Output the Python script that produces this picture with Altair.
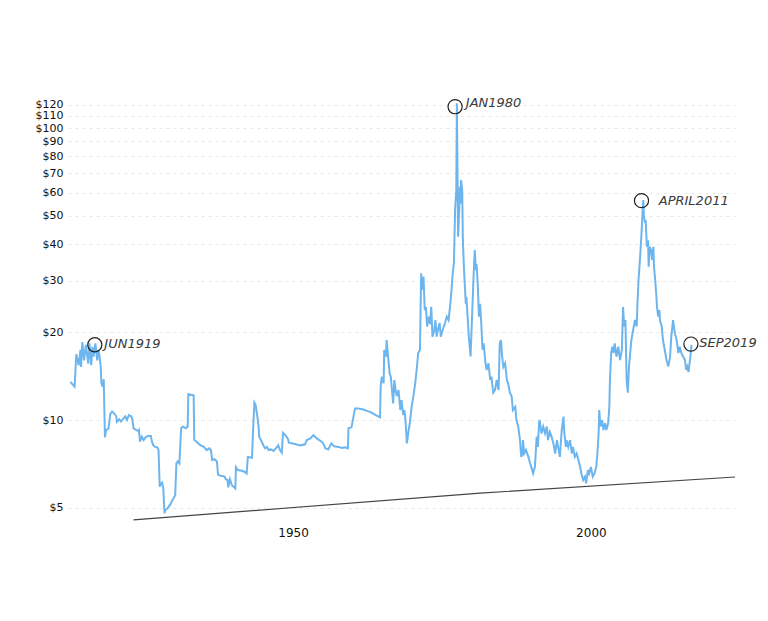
import altair as alt
import pandas as pd

# ---- data ----
years = [1912.6, 1913.3, 1913.6, 1914.0, 1914.3, 1914.4, 1914.6, 1914.9, 1915.2, 1915.6, 1915.8, 1916.1, 1916.3,
         1916.5, 1916.8, 1917.1, 1917.3, 1917.5, 1917.7, 1917.8, 1918.0, 1918.2, 1918.4, 1918.6, 1919.0, 1919.3,
         1919.6, 1920.0, 1920.3, 1920.4, 1920.8, 1921.1, 1921.4, 1921.8, 1922.1, 1922.4, 1922.8, 1923.0, 1923.2,
         1923.7, 1924.0, 1924.1, 1924.3, 1924.6, 1924.9, 1925.2, 1925.6, 1926.1, 1926.3, 1926.5, 1926.8, 1927.2,
         1927.4, 1927.6, 1927.8, 1928.0, 1928.2, 1928.4, 1928.6, 1928.9, 1929.4, 1929.9, 1930.2, 1930.4, 1930.6,
         1930.9, 1931.2, 1931.5, 1932.0, 1932.3, 1932.4, 1933.3, 1933.4, 1933.8, 1934.4, 1935.0, 1935.5, 1935.9,
         1936.2, 1936.4, 1936.8, 1937.2, 1937.4, 1937.9, 1938.5, 1938.7, 1939.0, 1939.1, 1939.4, 1939.7, 1940.0,
         1940.3, 1940.4, 1940.7, 1941.4, 1941.9, 1942.2, 1942.4, 1943.1, 1943.3, 1943.5, 1943.7, 1944.0, 1944.2,
         1944.3, 1944.6, 1945.0, 1945.3, 1945.6, 1945.9, 1946.3, 1946.7, 1947.1, 1947.5, 1947.8, 1948.1, 1948.3,
         1948.7, 1949.1, 1949.3, 1949.7, 1950.3, 1951.2, 1952.0, 1952.3, 1952.9, 1953.4, 1953.8, 1954.2, 1954.8,
         1955.1, 1955.4, 1955.9, 1956.4, 1956.9, 1957.6, 1958.2, 1958.7, 1959.2, 1959.3, 1959.8, 1960.4, 1960.9,
         1961.8, 1962.4, 1962.9, 1963.5, 1964.6, 1964.7, 1964.9, 1965.2, 1965.3, 1965.6, 1965.7, 1965.9, 1966.2,
         1966.4, 1966.8, 1967.0, 1967.2, 1967.4, 1967.7, 1968.0, 1968.2, 1968.5, 1968.7, 1968.9, 1969.1, 1969.4,
         1969.6, 1969.9, 1970.2, 1970.5, 1970.8, 1971.0, 1971.3, 1971.5, 1971.6, 1971.9, 1972.1, 1972.3, 1972.5,
         1972.8, 1973.0, 1973.2, 1973.4, 1973.7, 1973.9, 1974.1, 1974.3, 1974.6, 1974.8, 1975.1, 1975.5, 1975.8,
         1976.1, 1976.4, 1976.6, 1976.8, 1977.0, 1977.2, 1977.4, 1977.5, 1977.7, 1977.9, 1978.0, 1978.1, 1978.2,
         1978.4, 1978.5, 1978.7, 1979.0, 1979.1, 1979.3, 1979.5, 1979.8, 1980.0, 1980.3, 1980.5, 1980.7, 1980.8,
         1981.0, 1981.2, 1981.4, 1981.6, 1981.8, 1982.0, 1982.3, 1982.5, 1982.8, 1983.1, 1983.3, 1983.6, 1983.9,
         1984.2, 1984.5, 1984.7, 1984.9, 1985.1, 1985.3, 1985.6, 1985.9, 1986.1, 1986.4, 1986.7, 1986.9, 1987.3,
         1987.5, 1987.8, 1988.1, 1988.3, 1988.5, 1988.6, 1988.8, 1989.1, 1989.5, 1989.8, 1990.0, 1990.3, 1990.6,
         1990.9, 1991.1, 1991.3, 1991.4, 1991.7, 1992.0, 1992.3, 1992.6, 1992.8, 1993.1, 1993.4, 1993.7, 1994.0,
         1994.3, 1994.5, 1994.8, 1995.1, 1995.4, 1995.5, 1995.8, 1995.9, 1996.2, 1996.5, 1996.8, 1997.0, 1997.3,
         1997.6, 1997.9, 1998.2, 1998.4, 1998.7, 1999.0, 1999.2, 1999.5, 1999.7, 2000.0, 2000.3, 2000.6, 2000.9,
         2001.1, 2001.3, 2001.4, 2001.6, 2001.9, 2002.1, 2002.4, 2002.6, 2002.9, 2003.1, 2003.2, 2003.4, 2003.6,
         2003.8, 2004.0, 2004.3, 2004.6, 2004.9, 2005.2, 2005.4, 2005.6, 2005.8, 2006.0, 2006.2, 2006.4, 2006.6,
         2006.8, 2007.1, 2007.4, 2007.7, 2007.8, 2008.0, 2008.3, 2008.5, 2008.7, 2008.8, 2008.9, 2009.1, 2009.2,
         2009.4, 2009.6, 2009.7, 2009.9, 2010.1, 2010.3, 2010.5, 2010.6, 2010.8, 2011.0, 2011.1, 2011.3, 2011.5,
         2011.6, 2011.9, 2012.1, 2012.4, 2012.7, 2013.0, 2013.3, 2013.5, 2013.8, 2014.1, 2014.4, 2014.7, 2014.9,
         2015.2, 2015.5, 2015.8, 2016.0, 2016.2, 2016.4, 2016.7, 2016.9]

prices = [13.5, 13.0, 16.8, 15.4, 17.4, 15.2, 18.5, 16.0, 18.1, 15.6, 18.3, 15.4, 17.8,
          16.5, 18.3, 16.0, 17.4, 16.5, 15.2, 13.4, 13.0, 13.8, 8.72, 9.24, 9.34, 10.5,
          10.7, 10.5, 10.3, 9.87, 10.06, 9.87, 10.06, 10.3, 10.0, 10.4, 10.3, 10.1, 9.37,
          9.24, 9.17, 9.24, 8.43, 8.77, 8.54, 8.72, 8.81, 8.81, 8.43, 8.20, 8.09, 8.06,
          7.89, 5.91, 6.07, 6.11, 5.83, 4.80, 4.92, 4.98, 5.15, 5.39, 5.53, 7.10, 7.21,
          7.10, 9.37, 9.50, 9.37, 9.50, 12.25, 12.14, 8.54, 8.43, 8.20, 8.09, 7.89, 8.00,
          7.89, 7.30, 7.34, 7.21, 6.49, 6.44, 6.40, 6.27, 6.23, 5.88, 6.27, 5.99, 5.91,
          5.83, 6.89, 6.74, 6.70, 6.64, 6.56, 7.48, 7.43, 9.50, 11.47, 11.27, 10.27, 9.50,
          8.77, 8.54, 8.20, 8.00, 8.09, 7.89, 7.93, 7.84, 8.00, 8.20, 7.89, 7.73, 9.04,
          8.88, 8.65, 8.37, 8.32, 8.28, 8.19, 8.26, 8.54, 8.65, 8.88, 8.72, 8.58, 8.43,
          8.28, 8.00, 7.93, 8.32, 8.13, 8.09, 8.02, 8.06, 8.00, 9.37, 9.44, 10.96, 10.96,
          10.87, 10.75, 10.67, 10.49, 10.21, 13.01, 14.07, 13.36, 17.37, 16.48, 18.79, 16.95, 14.46,
          14.07, 11.40, 13.71, 12.67, 12.07, 12.67, 10.82, 11.71, 10.40, 10.82, 9.75, 8.32, 9.24,
          9.75, 11.10, 12.07, 13.36, 15.24, 16.95, 17.37, 31.8, 27.9, 31.0, 23.8, 24.4, 20.9,
          22.6, 21.3, 24.4, 19.3, 20.3, 22.0, 19.3, 20.3, 21.5, 19.3, 20.3, 21.5, 22.6,
          22.0, 25.0, 27.9, 31.8, 34.4, 52.4, 61.3, 121.5, 42.4, 52.4, 63.0, 55.2, 66.3,
          61.3, 41.3, 32.6, 25.0, 26.4, 22.6, 19.3, 16.5, 21.3, 31.0, 38.2, 32.6, 34.2,
          29.4, 22.6, 25.0, 21.3, 17.4, 18.3, 15.65, 14.84, 15.65, 13.71, 14.07, 12.4, 12.67,
          13.71, 12.67, 18.3, 18.8, 16.5, 15.2, 15.65, 13.71, 13.36, 12.4, 12.07, 10.82, 11.1,
          10.0, 9.50, 8.54, 7.48, 7.68, 8.54, 7.68, 7.89, 7.48, 7.10, 6.91, 6.56, 6.91,
          8.77, 8.09, 9.75, 10.0, 9.0, 9.50, 9.0, 9.50, 8.54, 9.11, 8.77, 8.32, 7.68,
          8.54, 8.09, 7.48, 9.24, 10.27, 9.24, 8.09, 8.54, 8.09, 8.54, 7.68, 8.09, 7.48,
          7.68, 7.30, 6.91, 6.56, 6.23, 6.40, 6.07, 6.74, 6.56, 6.91, 6.40, 6.56, 6.91,
          7.68, 9.0, 10.82, 9.50, 10.0, 9.24, 9.75, 9.24, 9.75, 11.1, 13.71, 16.95, 17.83,
          16.95, 18.3, 16.48, 17.83, 16.05, 17.37, 24.4, 20.9, 22.0, 13.71, 12.4, 15.24, 16.95,
          18.79, 20.34, 22.0, 20.9, 24.4, 30.16, 37.0, 43.6, 52.4, 56.7, 49.8, 47.4, 48.4,
          39.2, 41.3, 33.5, 39.2, 38.2, 35.3, 39.2, 33.5, 30.16, 26.5, 24.4, 22.6, 23.8,
          22.0, 20.9, 18.79, 17.37, 16.05, 15.24, 16.48, 19.3, 22.0, 19.8, 18.79, 16.95, 17.83,
          16.95, 16.48, 16.05, 14.84, 15.24, 14.6, 16.48, 18.1]

y_tick_values = [5, 10, 20, 30, 40, 50, 60, 70, 80, 90, 100, 110, 120]
x_tick_values = [1950, 2000]

# hand-drawn trend line
trend_years = [1923.2, 1981.4, 2024.2]
trend_prices = [4.55, 5.62, 6.38]

# hand-written annotations
ann_labels = ["JUN1919", "JAN1980", "APRIL2011", "SEP2019"]
ann_years = [1916.7, 1977.2, 2008.5, 2016.8]
ann_prices = [18.1, 118.3, 56.4, 18.2]
ann_text_years = [1918.3, 1979.0, 2011.4, 2018.2]
ann_text_prices = [18.2, 121.8, 56.2, 18.3]

series = pd.DataFrame({"year": years, "price": prices})
trend = pd.DataFrame({"year": trend_years, "price": trend_prices})
ann = pd.DataFrame({"label": ann_labels, "year": ann_years, "price": ann_prices,
                    "tyear": ann_text_years, "tprice": ann_text_prices})

xscale = alt.Scale(domain=[1912.2, 2024.2], nice=False, zero=False)
yscale = alt.Scale(type="log", domain=[4.475, 126.7], nice=False)

xaxis = alt.Axis(values=x_tick_values, format="d", grid=False, domain=False, ticks=False,
                 tickSize=0, labelPadding=5, labelFont="DejaVu Sans", labelFontSize=12,
                 labelColor="#111", title=None)
yaxis = alt.Axis(values=y_tick_values, labelExpr="'$' + datum.value", labelOverlap=False,
                 grid=True, gridDash=[3, 4], gridColor="#e6e6e6", gridWidth=1,
                 domain=False, ticks=False, tickSize=0, labelPadding=5,
                 labelFont="DejaVu Sans", labelFontSize=11, labelColor="#111", title=None)

line = alt.Chart(series).mark_line(color="#6db5ee", strokeWidth=2, interpolate="linear").encode(
    x=alt.X("year:Q", scale=xscale, axis=xaxis),
    y=alt.Y("price:Q", scale=yscale, axis=yaxis),
)

trend_line = alt.Chart(trend).mark_line(color="#444", strokeWidth=1.1).encode(
    x=alt.X("year:Q", scale=xscale, axis=xaxis),
    y=alt.Y("price:Q", scale=yscale, axis=yaxis),
)

circles = alt.Chart(ann).mark_point(shape="circle", size=200, filled=False, color="#222",
                                     strokeWidth=1.2, opacity=1).encode(
    x=alt.X("year:Q", scale=xscale, axis=xaxis),
    y=alt.Y("price:Q", scale=yscale, axis=yaxis),
)

texts = alt.Chart(ann).mark_text(align="left", baseline="middle", font="DejaVu Sans",
                                 fontSize=13, fontStyle="italic", fontWeight="normal",
                                 color="#3a3a3a").encode(
    x=alt.X("tyear:Q", scale=xscale, axis=xaxis),
    y=alt.Y("tprice:Q", scale=yscale, axis=yaxis),
    text="label:N",
)

chart = alt.layer(line, trend_line, circles, texts).properties(
    width=667, height=424,
    background="white",
    autosize=alt.AutoSizeParams(type="none"),
    padding={"left": 60, "top": 90, "right": 24, "bottom": 60},
).configure_view(stroke=None)

chart.save("out.html", embed_options={"renderer": "svg", "actions": False})
